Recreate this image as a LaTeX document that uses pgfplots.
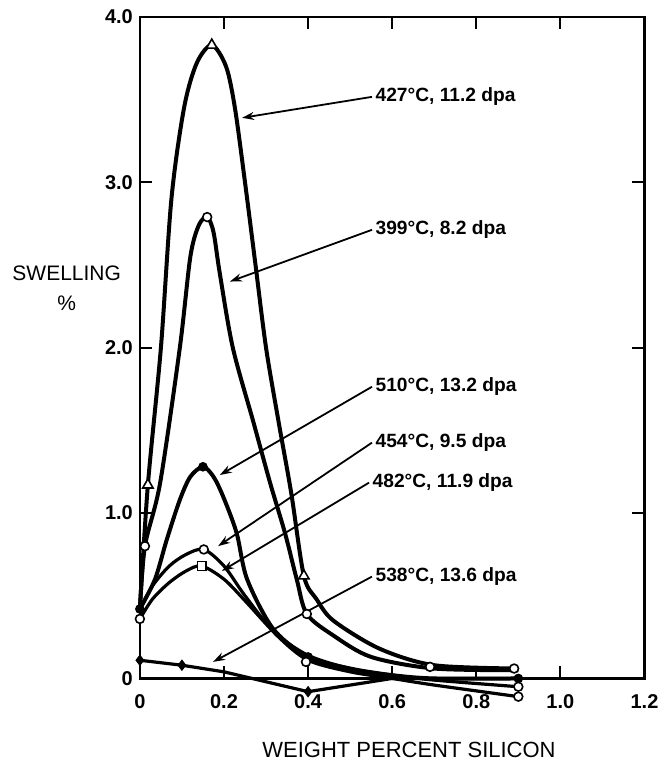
\documentclass[border=0pt]{standalone}
\usepackage{fontspec}
\setmainfont{Liberation Sans}
\usepackage{pgfplots}
\pgfplotsset{compat=1.18}
\usetikzlibrary{arrows.meta}
\pgfplotsset{
  curve/.style={black, line width=2pt, smooth, tension=0.5, no marks},
  thin curve/.style={black, line width=1.6pt, smooth, tension=0.5, no marks},
  pts/.style={only marks, mark size=2.2pt, mark options={draw=black, fill=white, line width=0.8pt}},
}
\tikzset{
  lbl/.style={anchor=west, font=\fontsize{9.6}{11}\selectfont\bfseries, inner sep=1pt},
  arr/.style={black, line width=0.9pt, -{Stealth[length=6pt,width=4pt]}},
}
\begin{document}
\begin{tikzpicture}
\begin{axis}[
  at={(0,0)}, anchor=south west, scale only axis,
  width=252.5pt, height=331pt,
  xmin=0, xmax=1.2, ymin=0, ymax=4,
  clip=false,
  axis line style={line width=1.3pt},
  tick align=inside, major tick length=6pt,
  tick style={line width=1pt, black},
  xtick={0,0.2,0.4,0.6,0.8,1.0,1.2},
  xticklabels={0,0.2,0.4,0.6,0.8,1.0,1.2},
  ytick={0,1,2,3,4},
  yticklabels={0,1.0,2.0,3.0,4.0},
  ticklabel style={font=\fontsize{10}{12}\selectfont\bfseries},
  xticklabel style={yshift=-4.5pt},
]
% 427 C, 11.2 dpa
\addplot[curve] coordinates {(0,0.42) (0.019,1.17) (0.05,2.0) (0.075,2.9) (0.105,3.45) (0.135,3.72) (0.171,3.83) (0.205,3.7) (0.226,3.45) (0.25,3.0) (0.275,2.5) (0.3,2.0) (0.33,1.55) (0.36,1.12) (0.39,0.62) (0.42,0.48) (0.46,0.35) (0.57,0.18) (0.7,0.08) (0.9,0.06)};
\addplot[pts, mark=triangle*, mark size=3pt] coordinates {(0.019,1.17) (0.171,3.83) (0.39,0.62)};
% 399 C, 8.2 dpa
\addplot[curve] coordinates {(0,0.42) (0.012,0.8) (0.048,1.18) (0.095,2.0) (0.12,2.55) (0.14,2.74) (0.16,2.79) (0.175,2.7) (0.19,2.45) (0.221,2.0) (0.27,1.55) (0.31,1.18) (0.345,0.88) (0.373,0.6) (0.397,0.39) (0.46,0.26) (0.55,0.13) (0.7,0.06) (0.9,0.05)};
\addplot[pts, mark=*] coordinates {(0.012,0.8) (0.16,2.79) (0.397,0.39) (0.69,0.07) (0.89,0.06)};
% 510 C, 13.2 dpa
\addplot[curve] coordinates {(0,0.42) (0.036,0.6) (0.064,0.84) (0.095,1.08) (0.12,1.22) (0.15,1.28) (0.175,1.22) (0.198,1.1) (0.23,0.88) (0.255,0.6) (0.317,0.3) (0.4,0.13) (0.5,0.06) (0.6,0.02) (0.7,0.0) (0.9,0.0)};
\addplot[pts, mark=*, mark options={fill=black}] coordinates {(0,0.42) (0.15,1.28) (0.4,0.13) (0.9,0.0)};
% 454 C, 9.5 dpa
\addplot[thin curve] coordinates {(0,0.42) (0.03,0.56) (0.07,0.68) (0.11,0.75) (0.152,0.78) (0.2,0.68) (0.25,0.5) (0.32,0.28) (0.4,0.14) (0.5,0.06) (0.6,0.02) (0.7,-0.01) (0.9,-0.05)};
\addplot[pts, mark=*] coordinates {(0.152,0.78) (0.9,-0.05)};
% 482 C, 11.9 dpa
\addplot[thin curve] coordinates {(0,0.36) (0.03,0.48) (0.07,0.58) (0.11,0.65) (0.147,0.68) (0.2,0.6) (0.25,0.47) (0.33,0.25) (0.4,0.11) (0.5,0.04) (0.6,0.0) (0.7,-0.04) (0.9,-0.11)};
\addplot[pts, mark=square*] coordinates {(0.147,0.68)};
\addplot[pts, mark=*] coordinates {(0,0.36) (0.395,0.10) (0.9,-0.11)};
% 538 C, 13.6 dpa
\addplot[black, line width=1.6pt, no marks] coordinates {(0,0.11) (0.1,0.08) (0.2,0.04) (0.3,-0.02) (0.4,-0.08) (0.6,0.0) (0.7,0.0) (0.9,0.0)};
\addplot[pts, mark=diamond*, mark size=2.6pt, mark options={fill=black}] coordinates {(0,0.11) (0.1,0.08) (0.4,-0.08)};

% labels with arrows
\draw[arr] (axis cs:0.552,3.517) -- (axis cs:0.243,3.39);
\node[lbl] at (axis cs:0.555,3.517) {427°C, 11.2 dpa};
\draw[arr] (axis cs:0.552,2.713) -- (axis cs:0.214,2.40);
\node[lbl] at (axis cs:0.555,2.713) {399°C, 8.2 dpa};
\draw[arr] (axis cs:0.552,1.764) -- (axis cs:0.19,1.23);
\node[lbl] at (axis cs:0.555,1.764) {510°C, 13.2 dpa};
\draw[arr] (axis cs:0.552,1.426) -- (axis cs:0.186,0.80);
\node[lbl] at (axis cs:0.555,1.426) {454°C, 9.5 dpa};
\draw[arr] (axis cs:0.545,1.184) -- (axis cs:0.195,0.65);
\node[lbl] at (axis cs:0.548,1.184) {482°C, 11.9 dpa};
\draw[arr] (axis cs:0.552,0.616) -- (axis cs:0.174,0.10);
\node[lbl] at (axis cs:0.555,0.616) {538°C, 13.6 dpa};

\node[align=center, font=\fontsize{10.5}{15}\selectfont] at (axis cs:-0.174,2.36) {SWELLING\\\%};
\node[font=\fontsize{11}{13}\selectfont] at (axis cs:0.64,-0.43) {WEIGHT PERCENT SILICON};
\end{axis}
\path (-70pt,-42.5pt) rectangle (260pt,339.5pt);
\end{tikzpicture}
\end{document}
